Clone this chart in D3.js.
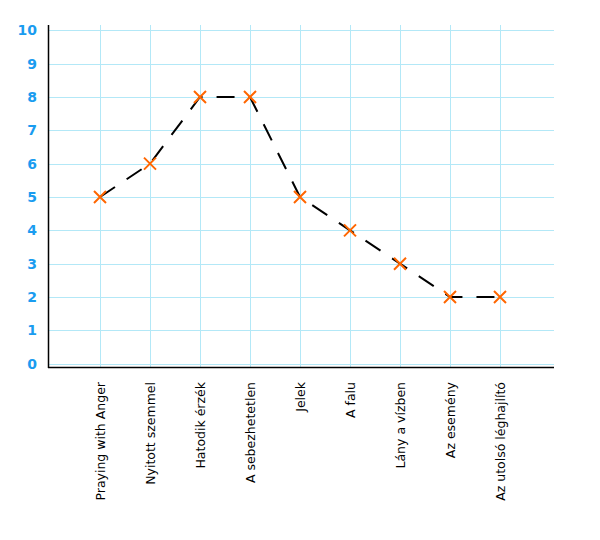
<!DOCTYPE html>
<html><head><meta charset="utf-8">
<script src="https://cdn.jsdelivr.net/npm/d3@7"></script>
<style>body{margin:0;background:#fff}</style>
</head><body>
<svg id="c" width="600" height="540"></svg>
<script>
const categories = ["Praying with Anger","Nyitott szemmel","Hatodik érzék","A sebezhetetlen","Jelek","A falu","Lány a vízben","Az esemény","Az utolsó léghajlító"];
const values = [5,6,8,8,5,4,3,2,2];
const yTicks = [0,1,2,3,4,5,6,7,8,9,10];

(function(){
const svg = d3.select("#c");
const pLeft = 49, pRight = 554, pTop = 25, pBottom = 367;
const x = d3.scaleLinear().domain([-1, 0]).range([50, 100]);
const y = d3.scaleLinear().domain([0, 10]).range([363.7, 30.3]);

svg.append("g").selectAll("line").data(yTicks).join("line")
  .attr("x1", pLeft).attr("x2", pRight)
  .attr("y1", d => Math.round(y(d)) + 0.5).attr("y2", d => Math.round(y(d)) + 0.5)
  .attr("stroke", "#b3e8f7").attr("stroke-width", 1);
svg.append("g").selectAll("line").data(categories).join("line")
  .attr("x1", (d,i) => Math.round(x(i)) + 0.5).attr("x2", (d,i) => Math.round(x(i)) + 0.5)
  .attr("y1", pTop).attr("y2", pBottom)
  .attr("stroke", "#b3e8f7").attr("stroke-width", 1);

svg.append("line").attr("x1", pLeft - 0.5).attr("x2", pLeft - 0.5).attr("y1", pTop).attr("y2", pBottom + 1)
  .attr("stroke", "#000").attr("stroke-width", 1.5);
svg.append("line").attr("x1", pLeft - 1).attr("x2", pRight).attr("y1", pBottom + 0.5).attr("y2", pBottom + 0.5)
  .attr("stroke", "#000").attr("stroke-width", 1.5);

svg.append("g").selectAll("text").data(yTicks).join("text")
  .attr("x", 37).attr("y", d => y(d)).attr("dy", "0.35em")
  .attr("text-anchor", "end")
  .attr("font-family", "DejaVu Sans, sans-serif").attr("font-size", 14).attr("font-weight", "bold")
  .attr("fill", "#1a9cf0").text(d => d);

svg.append("g").selectAll("text").data(categories).join("text")
  .attr("transform", (d,i) => `translate(${x(i) + 4.5},382) rotate(-90)`)
  .attr("text-anchor", "end")
  .attr("font-family", "DejaVu Sans, sans-serif").attr("font-size", 12.5)
  .attr("fill", "#000").text(d => d);

const line = d3.line().x((d,i) => x(i)).y(d => y(d));
svg.append("path").datum(values).attr("d", line)
  .attr("fill", "none").attr("stroke", "#000").attr("stroke-width", 2)
  .attr("stroke-dasharray", "18,14");

const s = 6;
svg.append("g").selectAll("path").data(values).join("path")
  .attr("d", (d,i) => {
    const cx = x(i), cy = y(d);
    return `M${cx-s},${cy-s}L${cx+s},${cy+s}M${cx-s},${cy+s}L${cx+s},${cy-s}`;
  })
  .attr("stroke", "#ff6600").attr("stroke-width", 2).attr("fill", "none");
})();
</script>
</body></html>
